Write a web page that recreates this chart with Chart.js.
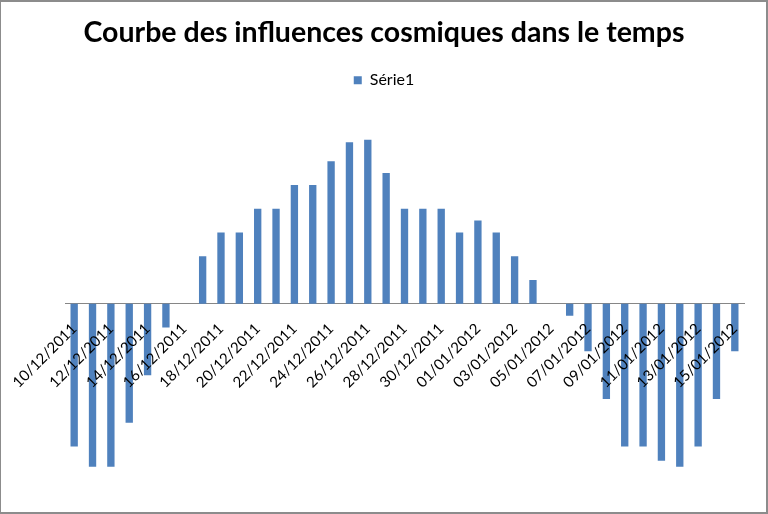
<!DOCTYPE html>
<html>
<head>
<meta charset="utf-8">
<script src="https://cdn.jsdelivr.net/npm/chart.js@4/dist/chart.umd.min.js"></script>
<style>
  html, body { margin: 0; padding: 0; background: #fff; }
  #wrap { position: relative; width: 768px; height: 514px; }
  #frame { position: absolute; left: 0; top: 0; width: 768px; height: 514px; box-sizing: border-box;
           border: 2px solid #8c8c8c; border-left-width: 1px; pointer-events: none; }
</style>
</head>
<body>
<div id="wrap">
  <canvas id="chart" width="768" height="514"></canvas>
  <div id="frame"></div>
</div>
<script>
// dates of the series, one bar per day
const dates = [
    '10/12/2011', '11/12/2011', '12/12/2011', '13/12/2011', '14/12/2011', '15/12/2011',
    '16/12/2011', '17/12/2011', '18/12/2011', '19/12/2011', '20/12/2011', '21/12/2011',
    '22/12/2011', '23/12/2011', '24/12/2011', '25/12/2011', '26/12/2011', '27/12/2011',
    '28/12/2011', '29/12/2011', '30/12/2011', '31/12/2011', '01/01/2012', '02/01/2012',
    '03/01/2012', '04/01/2012', '05/01/2012', '06/01/2012', '07/01/2012', '08/01/2012',
    '09/01/2012', '10/01/2012', '11/01/2012', '12/01/2012', '13/01/2012', '14/01/2012',
    '15/01/2012'
];

const serie1 = [
    -6, -6.85, -6.85, -5, -3, -1,
    0, 2, 3, 3, 4, 4,
    5, 5, 6, 6.8, 6.9, 5.5,
    4, 4, 4, 3, 3.5, 3,
    2, 1, 0, -0.5, -2, -4,
    -6, -6, -6.6, -6.85, -6, -4,
    -2
];

// only every second date is written on the axis
const tickLabels = dates.filter((d, i) => i % 2 === 0);

const ctx = document.getElementById('chart').getContext('2d');
new Chart(ctx, {
    type: 'bar',
    data: {
        labels: dates,
        datasets: [{
            label: 'Série1',
            data: serie1,
            backgroundColor: '#4f81bd',
            borderWidth: 0,
            barPercentage: 0.4,
            categoryPercentage: 1
        }]
    },
    options: {
        responsive: false,
        animation: false,
        layout: { padding: { left: 24, right: 24, top: 0, bottom: 20 } },
        plugins: {
            title: {
                display: true,
                text: 'Courbe des influences cosmiques dans le temps',
                color: '#000',
                font: { family: 'Lato', size: 28.5, weight: 'bold' },
                padding: { top: 16, bottom: 12 }
            },
            legend: {
                display: true,
                labels: {
                    color: '#000',
                    font: { family: 'Lato', size: 16 },
                    boxWidth: 8,
                    boxHeight: 8,
                    padding: 10
                }
            },
            tooltip: { enabled: false }
        },
        scales: {
            x: {
                position: { y: 0 },
                grid: { display: false },
                border: { display: true, color: '#868686', width: 1 },
                ticks: {
                    z: 1,
                    color: '#000',
                    font: { family: 'Lato', size: 15 },
                    maxRotation: 45,
                    minRotation: 45,
                    autoSkip: false,
                    padding: 8,
                    callback: (v, i) => (i % 2 === 0 ? tickLabels[i / 2] : '')
                }
            },
            y: {
                // hidden axis, kept only to leave the left margin of the plot
                display: true,
                min: -8,
                max: 8.65,
                grid: { display: false },
                border: { display: false },
                ticks: { display: false },
                afterFit: s => { s.width = 41; }
            }
        }
    }
});
</script>
</body>
</html>
